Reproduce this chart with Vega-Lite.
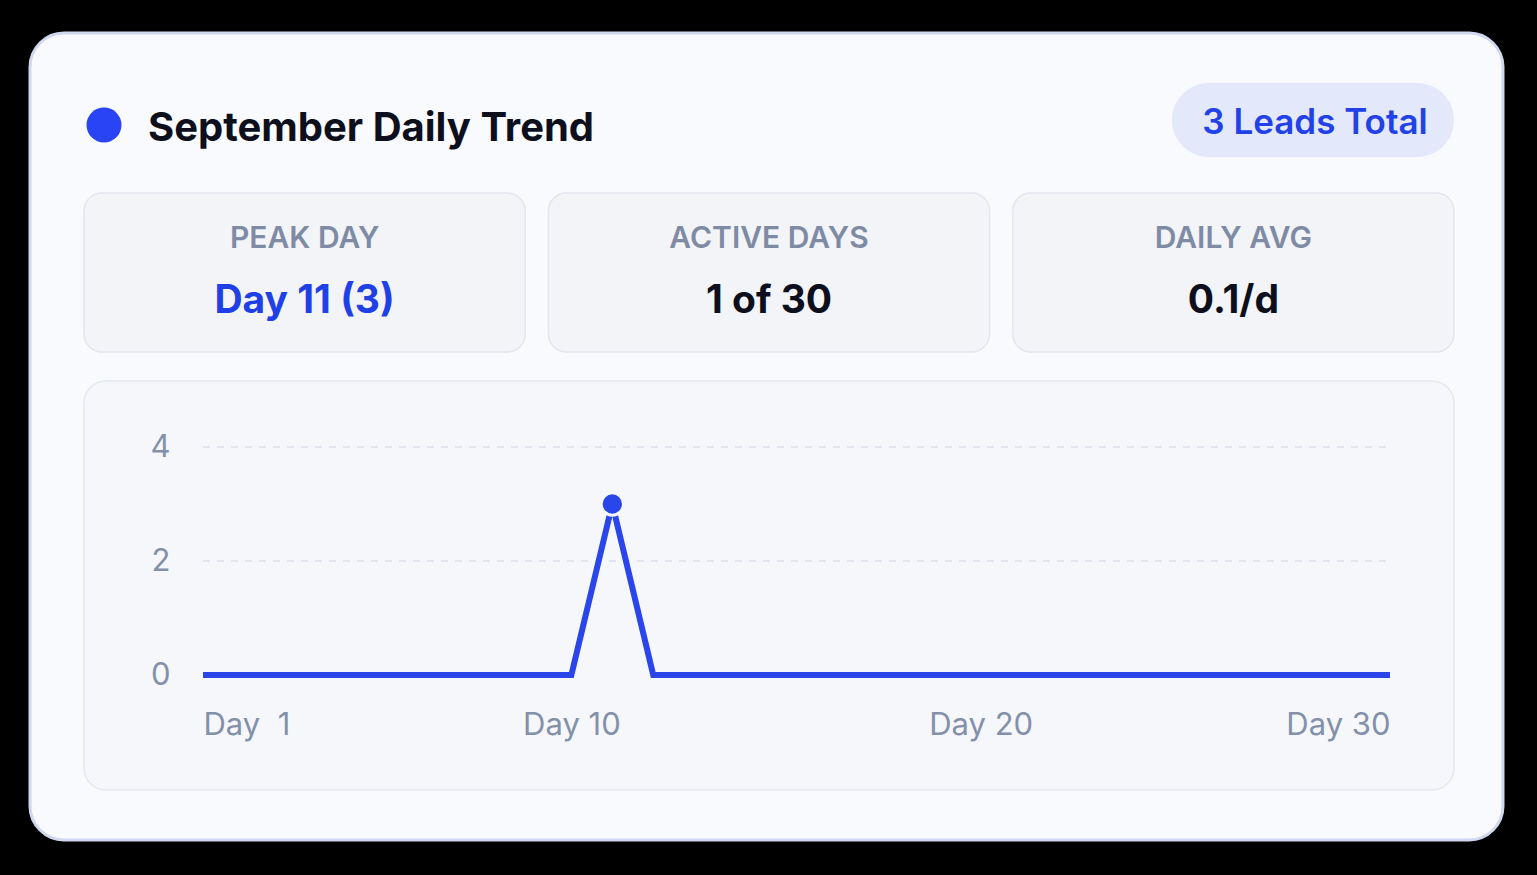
{
  "$schema": "https://vega.github.io/schema/vega-lite/v6.json",
  "width": 1473,
  "height": 807,
  "autosize": {"type": "none"},
  "padding": {"left": 30, "top": 33, "right": 34, "bottom": 35},
  "background": "#000000",
  "config": {
    "view": {"fill": "#f9fafd", "stroke": "#cfd8ef", "strokeWidth": 3, "cornerRadius": 34},
    "font": "Inter"
  },
  "datasets": {
    "daily": [
      {"day": 1, "leads": 0}, {"day": 2, "leads": 0}, {"day": 3, "leads": 0},
      {"day": 4, "leads": 0}, {"day": 5, "leads": 0}, {"day": 6, "leads": 0},
      {"day": 7, "leads": 0}, {"day": 8, "leads": 0}, {"day": 9, "leads": 0},
      {"day": 10, "leads": 0}, {"day": 11, "leads": 3}, {"day": 12, "leads": 0},
      {"day": 13, "leads": 0}, {"day": 14, "leads": 0}, {"day": 15, "leads": 0},
      {"day": 16, "leads": 0}, {"day": 17, "leads": 0}, {"day": 18, "leads": 0},
      {"day": 19, "leads": 0}, {"day": 20, "leads": 0}, {"day": 21, "leads": 0},
      {"day": 22, "leads": 0}, {"day": 23, "leads": 0}, {"day": 24, "leads": 0},
      {"day": 25, "leads": 0}, {"day": 26, "leads": 0}, {"day": 27, "leads": 0},
      {"day": 28, "leads": 0}, {"day": 29, "leads": 0}, {"day": 30, "leads": 0}
    ],
    "stats": [
      {"label": "PEAK DAY", "value": "Day 11 (3)"},
      {"label": "ACTIVE DAYS", "value": "1 of 30"},
      {"label": "DAILY AVG", "value": "0.1/d"}
    ],
    "header": [{"title": "September Daily Trend", "badge": "3 Leads Total"}],
    "gridlines": [{"leads": 2}, {"leads": 4}]
  },
  "layer": [
    {
      "data": {"name": "header"},
      "mark": {"type": "rect", "fill": "#f6f7fb", "stroke": "#e4e8f0", "strokeWidth": 1.5, "cornerRadius": 22},
      "encoding": {"x": {"value": 54}, "x2": {"value": 1424}, "y": {"value": 348}, "y2": {"value": 757}}
    },
    {
      "data": {"name": "stats"},
      "layer": [
        {
          "mark": {"type": "rect", "fill": "#f2f4f7", "stroke": "#e2e6ee", "strokeWidth": 1.5, "cornerRadius": 18},
          "encoding": {
            "x": {"field": "label", "type": "nominal", "sort": null, "axis": null,
                  "scale": {"range": [54, 1424], "paddingInner": 0.05, "paddingOuter": 0}},
            "y": {"value": 160}, "y2": {"value": 319}
          }
        },
        {
          "mark": {"type": "text", "fontSize": 30, "fontWeight": 600, "fill": "#7f8ba4", "baseline": "alphabetic", "letterSpacing": 1.8},
          "encoding": {
            "x": {"field": "label", "type": "nominal", "sort": null, "axis": null,
                  "scale": {"range": [54, 1424], "paddingInner": 0.05, "paddingOuter": 0}},
            "y": {"value": 215}, "text": {"field": "label"}
          }
        },
        {
          "mark": {"type": "text", "fontSize": 39, "fontWeight": 700, "baseline": "alphabetic", "letterSpacing": -1},
          "encoding": {
            "x": {"field": "label", "type": "nominal", "sort": null, "axis": null,
                  "scale": {"range": [54, 1424], "paddingInner": 0.05, "paddingOuter": 0}},
            "y": {"value": 280},
            "text": {"field": "value"},
            "color": {"condition": {"test": "datum.label === 'PEAK DAY'", "value": "#1f40e6"}, "value": "#0d0f1c"}
          }
        }
      ]
    },
    {
      "data": {"name": "header"},
      "mark": {"type": "point", "filled": true, "shape": "circle", "size": 1225, "color": "#2944f5", "opacity": 1},
      "encoding": {"x": {"value": 74}, "y": {"value": 92}}
    },
    {
      "data": {"name": "header"},
      "mark": {"type": "text", "align": "left", "baseline": "alphabetic", "fontSize": 40, "fontWeight": 700, "letterSpacing": -0.3, "fill": "#0d0f1c"},
      "encoding": {"x": {"value": 118}, "y": {"value": 108}, "text": {"field": "title"}}
    },
    {
      "data": {"name": "header"},
      "mark": {"type": "rect", "fill": "#e3e8fb", "cornerRadius": 37},
      "encoding": {"x": {"value": 1142}, "x2": {"value": 1424}, "y": {"value": 50}, "y2": {"value": 124}}
    },
    {
      "data": {"name": "header"},
      "mark": {"type": "text", "align": "center", "baseline": "alphabetic", "fontSize": 35, "fontWeight": 600, "fill": "#2241e6"},
      "encoding": {"x": {"value": 1285}, "y": {"value": 101}, "text": {"field": "badge"}}
    },
    {
      "data": {"name": "gridlines"},
      "mark": {"type": "rule", "stroke": "#dbe0ea", "strokeWidth": 1.5, "strokeDash": [7, 7]},
      "encoding": {
        "x": {"datum": 1, "type": "quantitative", "axis": null,
              "scale": {"domain": [1, 30], "range": [173, 1360], "nice": false, "zero": false}},
        "x2": {"datum": 30},
        "y": {"field": "leads", "type": "quantitative", "axis": null,
              "scale": {"domain": [0, 4], "range": [642, 414], "nice": false}}
      }
    },
    {
      "data": {"name": "daily"},
      "mark": {"type": "line", "color": "#2a45ea", "strokeWidth": 6, "strokeJoin": "miter"},
      "encoding": {
        "x": {
          "field": "day", "type": "quantitative",
          "scale": {"domain": [1, 30], "range": [173, 1360], "nice": false, "zero": false},
          "axis": {
            "title": null, "orient": "bottom", "offset": -165, "values": [1, 10, 20, 30], "zindex": 1,
            "labelExpr": "datum.value == 1 ? 'Day\u00a0 1' : 'Day ' + datum.value",
            "labelFlush": true, "labelFontSize": 31, "labelColor": "#8390a9", "labelPadding": 35,
            "domain": false, "ticks": false, "grid": false
          }
        },
        "y": {
          "field": "leads", "type": "quantitative",
          "scale": {"domain": [0, 4], "range": [642, 414], "nice": false},
          "axis": {
            "title": null, "orient": "left", "offset": -173, "values": [0, 2, 4], "zindex": 1,
            "labelFontSize": 31, "labelColor": "#8390a9", "labelPadding": 33,
            "domain": false, "ticks": false, "grid": false
          }
        }
      }
    },
    {
      "data": {"name": "daily"},
      "transform": [{"filter": "datum.leads > 0"}],
      "mark": {"type": "point", "filled": true, "shape": "circle", "size": 500, "color": "#2a45ea", "stroke": "#f6f7fb", "strokeWidth": 3, "opacity": 1},
      "encoding": {
        "x": {"field": "day", "type": "quantitative", "axis": null,
              "scale": {"domain": [1, 30], "range": [173, 1360], "nice": false, "zero": false}},
        "y": {"field": "leads", "type": "quantitative", "axis": null,
              "scale": {"domain": [0, 4], "range": [642, 414], "nice": false}}
      }
    }
  ],
  "resolve": {"scale": {"x": "independent", "y": "independent"}}
}
